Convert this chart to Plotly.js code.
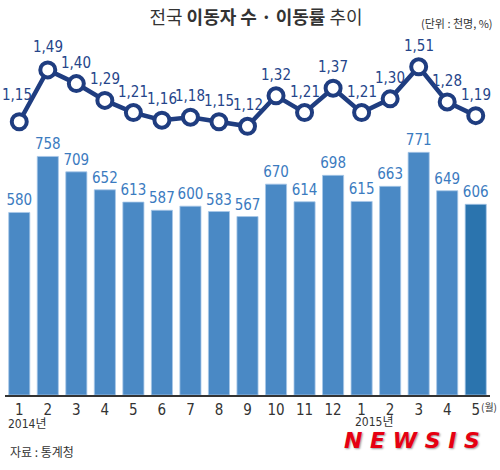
<!DOCTYPE html>
<html>
<head>
<meta charset="utf-8">
<script src="https://cdn.plot.ly/plotly-3.0.1.min.js"></script>
<style>html,body{margin:0;padding:0;background:#fff;}#chart{width:500px;height:470px;}</style>
</head>
<body>
<div id="chart"></div>
<script>
// ---- data ----
const categories = ['2014.01','2014.02','2014.03','2014.04','2014.05','2014.06','2014.07','2014.08','2014.09','2014.10','2014.11','2014.12','2015.01','2015.02','2015.03','2015.04','2015.05'];
const monthLabels = ['1','2','3','4','5','6','7','8','9','10','11','12','1','2','3','4','5'];
const movers = [580,758,709,652,613,587,600,583,567,670,614,698,615,663,771,649,606];      // 천명
const moveRate = [1.15,1.49,1.40,1.29,1.21,1.16,1.18,1.15,1.12,1.32,1.21,1.37,1.21,1.30,1.51,1.28,1.19]; // %

const NARROW = '"Liberation Sans Narrow","DejaVu Sans Condensed","Noto Sans CJK KR",sans-serif';
const KR = '"Noto Sans CJK KR",sans-serif';

const barColors = movers.map((v,i)=> i===movers.length-1 ? '#2b74ae' : '#4a89c5');

const bars = {
  type:'bar', x:categories, y:movers, yaxis:'y',
  marker:{color:barColors, line:{color:'#a8c8e8', width:0.8}},
  text:movers.map(String), textposition:'outside', cliponaxis:false, constraintext:'none',
  textfont:{family:NARROW, size:15, color:'#3b7bbf'},
  hoverinfo:'skip'
};
const line = {
  type:'scatter', mode:'lines+markers', x:categories, y:moveRate, yaxis:'y2',
  line:{color:'#1f3d80', width:4.5},
  marker:{symbol:'circle', size:15, color:'#ffffff', line:{color:'#1f3d80', width:4}},
  cliponaxis:false, hoverinfo:'skip'
};

const rateLabels = moveRate.map((v,i)=>({
  text:v.toFixed(2).replace('.',','), x:i, y:v, xref:'x', yref:'y2',
  yshift: i===0 ? 27 : (i===1 ? 23 : 21), xshift: i===0 ? -2 : 0,
  showarrow:false, xanchor:'center', yanchor:'middle',
  font:{family:NARROW, size:15, color:'#25458a'}
}));

const hiddenAxis = {showgrid:false, zeroline:false, showline:false, showticklabels:false, ticks:'', fixedrange:true};

const layout = {
  width:500, height:470,
  margin:{l:5, r:10, t:40, b:75, autoexpand:false},
  paper_bgcolor:'#ffffff', plot_bgcolor:'#ffffff',
  showlegend:false, bargap:0.26,
  title:{
    text:'전국 <b>이동자 수 · 이동률</b> 추이',
    font:{family:KR, size:18, color:'#333333'},
    x:0.512, xanchor:'center', xref:'container', y:0.963, yanchor:'middle', yref:'container'
  },
  xaxis:{
    type:'category', tickmode:'array', tickvals:categories, ticktext:monthLabels,
    range:[-0.5, categories.length-0.5], autorange:false,
    showline:true, linecolor:'#333333', linewidth:2, ticks:'', showgrid:false, zeroline:false,
    tickfont:{family:NARROW, size:15, color:'#333333'}, fixedrange:true, automargin:false
  },
  yaxis:Object.assign({range:[0,1128], autorange:false}, hiddenAxis),
  yaxis2:Object.assign({range:[-0.642,1.686], autorange:false, overlaying:'y', side:'right'}, hiddenAxis),
  annotations:rateLabels.concat([
    {text:'(단위 : 천명, %)', xref:'paper', yref:'paper', x:1.01, y:1.048, xanchor:'right', yanchor:'middle',
     showarrow:false, font:{family:KR, size:11, color:'#333333'}},
    {text:'(월)', xref:'paper', yref:'paper', x:0.998, y:-0.031, xanchor:'center', yanchor:'middle',
     showarrow:false, font:{family:KR, size:10, color:'#333333'}},
    {text:'2014년', xref:'paper', yref:'paper', x:0.0474, y:-0.083, xanchor:'center', yanchor:'middle',
     showarrow:false, font:{family:NARROW, size:12, color:'#333333'}},
    {text:'<b><i>N E W S I S</i></b>', xref:'paper', yref:'paper', x:0.839, y:-0.128, xanchor:'center', yanchor:'middle',
     showarrow:false, font:{family:'"DejaVu Sans",sans-serif', size:22, color:'#e60012', shadow:'1px 1px 2px rgba(0,0,0,0.4)'}},
    {text:'2015년', xref:'paper', yref:'paper', x:0.761, y:-0.076, xanchor:'center', yanchor:'middle',
     showarrow:false, font:{family:NARROW, size:12, color:'#333333'}},
    {text:'자료 : 통계청', xref:'paper', yref:'paper', x:0.006, y:-0.158, xanchor:'left', yanchor:'middle',
     showarrow:false, font:{family:KR, size:12, color:'#333333'}}
  ])
};

Plotly.newPlot('chart', [bars, line], layout, {displayModeBar:false, staticPlot:true});
</script>
</body>
</html>
